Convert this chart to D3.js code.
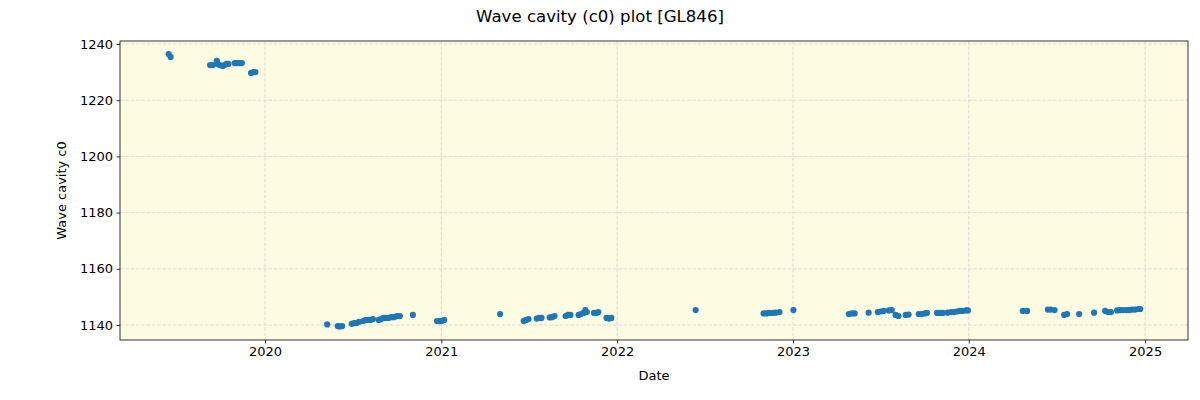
<!DOCTYPE html>
<html>
<head>
<meta charset="utf-8">
<script src="https://cdn.jsdelivr.net/npm/d3@7"></script>
<style>
body { margin: 0; background: #fff; }
svg { display: block; font-family: "DejaVu Sans", sans-serif; }
</style>
</head>
<body>
<svg id="chart" width="1200" height="400"></svg>
<script>
const dates = [
  "2019-06-15","2019-06-19",
  "2019-09-09","2019-09-15","2019-09-23","2019-09-25","2019-09-29","2019-10-05","2019-10-09","2019-10-13","2019-10-17",
  "2019-10-30","2019-11-04","2019-11-09","2019-11-14",
  "2019-12-03","2019-12-08","2019-12-12",
  "2020-05-09","2020-05-31","2020-06-04","2020-06-09",
  "2020-06-29","2020-07-04","2020-07-09","2020-07-14",
  "2020-07-23","2020-07-28","2020-08-02","2020-08-07","2020-08-12",
  "2020-08-24","2020-08-29","2020-09-03","2020-09-08","2020-09-13",
  "2020-09-19","2020-09-25","2020-10-01","2020-10-07",
  "2020-11-03",
  "2020-12-23","2020-12-28","2021-01-02","2021-01-07",
  "2021-05-03",
  "2021-06-21","2021-06-26","2021-07-01",
  "2021-07-18","2021-07-23","2021-07-28",
  "2021-08-14","2021-08-19","2021-08-24",
  "2021-09-16","2021-09-21","2021-09-26",
  "2021-10-13","2021-10-18","2021-10-23","2021-10-27","2021-10-30",
  "2021-11-14","2021-11-19","2021-11-23",
  "2021-12-10","2021-12-15","2021-12-20",
  "2022-06-13",
  "2022-11-01","2022-11-07","2022-11-13","2022-11-20","2022-11-26","2022-12-04",
  "2023-01-02",
  "2023-04-27","2023-05-03","2023-05-09",
  "2023-06-07",
  "2023-06-26","2023-07-02","2023-07-08",
  "2023-07-19","2023-07-25",
  "2023-08-02","2023-08-08",
  "2023-08-23","2023-08-29",
  "2023-09-19","2023-09-25","2023-10-02","2023-10-06",
  "2023-10-27","2023-11-02","2023-11-08",
  "2023-11-18","2023-11-25","2023-12-01",
  "2023-12-07","2023-12-13","2023-12-19","2023-12-26","2023-12-30",
  "2024-04-22","2024-05-01",
  "2024-06-13","2024-06-19","2024-06-27",
  "2024-07-17","2024-07-23",
  "2024-08-17",
  "2024-09-17",
  "2024-10-10","2024-10-16","2024-10-22",
  "2024-11-04","2024-11-10","2024-11-16","2024-11-23","2024-11-29","2024-12-05","2024-12-11","2024-12-18","2024-12-22"
];
const values = [
  1236.4,1235.4,
  1232.5,1232.5,1234.0,1232.9,1232.5,1232.2,1232.5,1232.9,1232.9,
  1233.2,1233.2,1233.2,1233.2,
  1229.7,1230.0,1230.0,
  1140.2,1139.6,1139.5,1139.6,
  1140.4,1140.7,1140.7,1141.1,
  1141.4,1141.8,1141.8,1141.8,1142.1,
  1141.8,1142.1,1142.5,1142.5,1142.5,
  1142.8,1142.8,1143.2,1143.2,
  1143.6,
  1141.4,1141.4,1141.4,1141.8,
  1143.9,
  1141.4,1141.8,1142.1,
  1142.3,1142.5,1142.5,
  1142.7,1142.8,1143.2,
  1143.2,1143.6,1143.6,
  1143.6,1143.9,1144.3,1145.3,1144.6,
  1144.3,1144.3,1144.6,
  1142.5,1142.3,1142.5,
  1145.3,
  1144.1,1144.1,1144.3,1144.3,1144.4,1144.6,
  1145.3,
  1143.9,1144.1,1144.1,
  1144.4,
  1144.6,1144.8,1145.0,
  1145.2,1145.3,
  1143.6,1143.2,
  1143.6,1143.7,
  1143.9,1143.9,1144.1,1144.3,
  1144.3,1144.3,1144.3,
  1144.4,1144.6,1144.6,
  1144.8,1145.0,1145.0,1145.2,1145.2,
  1145.0,1145.0,
  1145.5,1145.5,1145.3,
  1143.6,1143.9,
  1143.9,
  1144.4,
  1145.0,1144.6,1144.6,
  1145.2,1145.3,1145.3,1145.3,1145.3,1145.5,1145.5,1145.7,1145.7
];
const yTicks = [1140, 1160, 1180, 1200, 1220, 1240];
const xTickYears = [2020, 2021, 2022, 2023, 2024, 2025];
const title = "Wave cavity (c0) plot [GL846]";
const xLabel = "Date";
const yLabel = "Wave cavity c0";

const parse = d3.timeParse("%Y-%m-%d");
const data = dates.map((d, i) => ({ date: parse(d), value: values[i] }));

const svg = d3.select("#chart");
const m = { left: 120, top: 41, right: 12, bottom: 60 };
const W = 1200, H = 400;
const pw = W - m.left - m.right, ph = H - m.top - m.bottom;

const x = d3.scaleTime()
  .domain([new Date(2019, 2, 6), new Date(2025, 2, 31)])
  .range([0, pw]);
const y = d3.scaleLinear()
  .domain([1134.66, 1241.07])
  .range([ph, 0]);

const g = svg.append("g").attr("transform", `translate(${m.left},${m.top})`);

g.append("rect").attr("width", pw).attr("height", ph).attr("fill", "#fdfbe2");

const xTickDates = xTickYears.map(yr => new Date(yr, 0, 1));

// grid
g.append("g").selectAll("line").data(xTickDates).join("line")
  .attr("x1", d => x(d)).attr("x2", d => x(d))
  .attr("y1", 0).attr("y2", ph)
  .attr("stroke", "#d4d4d4").attr("stroke-width", 0.8).attr("stroke-dasharray", "3.7,1.6");
g.append("g").selectAll("line").data(yTicks).join("line")
  .attr("x1", 0).attr("x2", pw)
  .attr("y1", d => y(d)).attr("y2", d => y(d))
  .attr("stroke", "#d4d4d4").attr("stroke-width", 0.8).attr("stroke-dasharray", "3.7,1.6");

// points
g.append("g").selectAll("circle").data(data).join("circle")
  .attr("cx", d => x(d.date)).attr("cy", d => y(d.value))
  .attr("r", 3.1).attr("fill", "#1f77b4");

// axes
const xAxis = d3.axisBottom(x).tickValues(xTickDates).tickFormat(d3.timeFormat("%Y")).tickSize(3.5).tickPadding(3.5);
const yAxis = d3.axisLeft(y).tickValues(yTicks).tickFormat(d3.format("d")).tickSize(3.5).tickPadding(3.5);

const gx = g.append("g").attr("transform", `translate(0,${ph})`).call(xAxis);
const gy = g.append("g").call(yAxis);
[gx, gy].forEach(a => {
  a.select(".domain").remove();
  a.selectAll("text").attr("font-size", 13).attr("fill", "#000").attr("font-family", "DejaVu Sans");
  a.selectAll("line").attr("stroke", "#000").attr("stroke-width", 0.8);
});

g.append("rect").attr("width", pw).attr("height", ph)
  .attr("fill", "none").attr("stroke", "#000").attr("stroke-width", 0.8);

svg.append("text").attr("x", 600).attr("y", 22).attr("text-anchor", "middle")
  .attr("font-size", 16.6).text(title);
svg.append("text").attr("x", m.left + pw / 2).attr("y", 380).attr("text-anchor", "middle")
  .attr("font-size", 13).text(xLabel);
svg.append("text").attr("transform", `translate(66,${m.top + ph / 2}) rotate(-90)`)
  .attr("text-anchor", "middle").attr("font-size", 13).text(yLabel);
</script>
</body>
</html>
